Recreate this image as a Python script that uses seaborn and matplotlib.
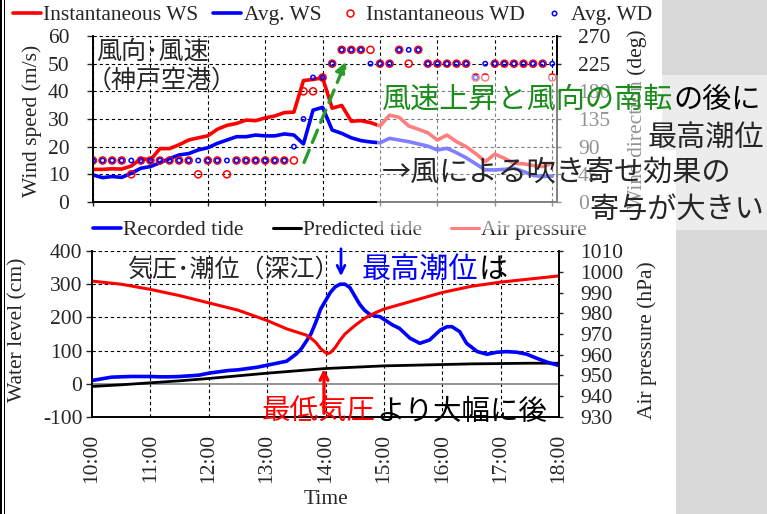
import matplotlib
matplotlib.use("Agg")
import matplotlib.pyplot as plt
import seaborn as sns
import pandas as pd
from matplotlib.lines import Line2D
from matplotlib.patches import Rectangle

# ---------------- Kobe Airport wind, 10-minute records 10:00-18:00 ----------------
wind_minutes = list(range(0, 481, 10))
inst_ws = [11.8, 11.8, 12.0, 11.9, 13.0, 15.7, 15.2, 19.3, 19.3, 20.7,
           22.4, 23.2, 23.9, 26.3, 27.7, 28.4, 29.6, 29.4, 30.4, 31.1,
           32.3, 32.5, 43.9, 44.3, 44.9, 33.9, 34.9, 29.2, 29.4, 28.7,
           27.5, 31.4, 30.6, 27.5, 26.3, 25.0, 22.4, 24.2, 21.8, 20.0,
           17.5, 14.6, 17.3, 15.8, 14.0, 13.8, 13.2, 12.8, 14.0]
avg_ws = [9.8, 8.8, 9.2, 8.9, 10.4, 12.2, 12.8, 14.2, 15.7, 17.0,
          17.5, 18.8, 19.6, 21.2, 22.4, 23.6, 23.6, 24.2, 23.9, 23.9,
          24.6, 24.2, 21.0, 33.2, 34.2, 26.0, 24.8, 23.2, 22.2, 21.7,
          21.4, 23.0, 22.4, 21.8, 21.0, 20.2, 18.8, 19.4, 17.8, 16.0,
          13.8, 11.6, 11.6, 11.8, 12.2, 11.0, 9.6, 9.2, 9.4]
inst_wd = [67.5, 67.5, 67.5, 67.5, 45, 67.5, 67.5, 67.5, 67.5, 67.5,
           67.5, 45, 67.5, 67.5, 45, 67.5, 67.5, 67.5, 67.5, 67.5,
           67.5, 67.5, 180, 180, 202.5, 225, 247.5, 247.5, 247.5, 247.5,
           225, 225, 247.5, 225, 247.5, 225, 225, 225, 225, 225,
           202.5, 202.5, 225, 225, 225, 225, 225, 225, 202.5]
avg_wd = [67.5, 67.5, 67.5, 67.5, 67.5, 67.5, 67.5, 67.5, 67.5, 67.5,
          67.5, 67.5, 67.5, 67.5, 67.5, 67.5, 67.5, 67.5, 67.5, 67.5,
          67.5, 90, 135, 202.5, 202.5, 225, 247.5, 247.5, 247.5, 225,
          225, 225, 247.5, 247.5, 247.5, 225, 225, 225, 225, 225,
          202.5, 225, 225, 225, 225, 225, 225, 225, 225]

# ---------------- Fukae: tide level and air pressure ----------------
tide_minutes = [0, 10, 20, 30, 40, 50, 60, 70, 80, 90, 100, 110, 120, 130, 140,
                150, 160, 170, 180, 190, 200, 210, 215, 220, 225, 230, 235, 240,
                245, 250, 255, 260, 265, 270, 275, 280, 285, 290, 296, 309, 316,
                327, 337, 347, 358, 365, 370, 378, 385, 396, 406, 416, 426, 437,
                447, 457, 468, 480]
recorded_tide = [10, 15, 20, 21, 22, 22, 22, 21, 21, 22, 24, 26, 32, 36, 40,
                 42, 46, 50, 56, 62, 68, 90, 105, 127, 150, 185, 225, 250,
                 275, 292, 300, 300, 290, 265, 240, 222, 210, 205, 202, 177, 167,
                 137, 122, 132, 162, 172, 172, 157, 122, 97, 89, 95, 97, 95,
                 89, 77, 65, 55]
pred_minutes = list(range(0, 481, 30))
predicted_tide = [-8, -3, 3, 9, 16, 24, 32, 39, 46, 50, 54, 56, 58, 60, 61, 62, 62]
press_minutes = [0, 30, 60, 90, 120, 150, 180, 200, 210, 220, 225, 230, 235, 240,
                 242, 245, 250, 255, 260, 270, 280, 290, 300, 330, 360, 390, 420,
                 450, 480]
air_pressure = [995.5, 994, 991.5, 988.5, 985, 981.5, 976.5, 972.5, 971, 969.5,
                968, 966, 963, 961, 960.5, 961, 963.5, 967, 970, 974, 977.5, 980,
                982, 986, 990, 993, 995, 996.5, 998]

hour_ticks = list(range(0, 481, 60))
hour_labels = ["10:00", "11:00", "12:00", "13:00", "14:00", "15:00", "16:00", "17:00", "18:00"]

W, H = 767, 514
RED, BLUE, BLACK = "#ff0000", "#0000ff", "#000000"
GREEN = "#1a8c1a"
SERIF = "Liberation Serif"
JP = ["Noto Sans CJK JP", "DejaVu Sans"]
FS = 15.5

sns.set_style("white")
plt.rcParams["font.family"] = [SERIF, "DejaVu Sans"]
plt.rcParams["axes.unicode_minus"] = False


def fx(px):
    return px / W


def fy(py):
    return 1 - py / H


fig = plt.figure(figsize=(W / 100, H / 100), dpi=100)
fig.patch.set_facecolor("white")

grid_kw = dict(color="black", lw=0.8, linestyle=(0, (3, 2.5)))


def style_axes(ax, axr):
    for a in (ax, axr):
        a.set_facecolor("none")
        a.spines["top"].set_visible(False)
        for s in ("left", "right", "bottom"):
            a.spines[s].set_color("black")
            a.spines[s].set_linewidth(1.2)


# ---------------- upper panel: wind ----------------
ax1 = fig.add_axes([fx(93), fy(202), fx(557) - fx(93), (202 - 36) / H])
ax1r = ax1.twinx()
style_axes(ax1, ax1r)

wind = pd.DataFrame({"t": wind_minutes, "iws": inst_ws, "aws": avg_ws,
                     "iwd": inst_wd, "awd": avg_wd})
sns.lineplot(data=wind, x="t", y="iws", ax=ax1, color=RED, lw=2.6,
             estimator=None, sort=False)
sns.lineplot(data=wind, x="t", y="aws", ax=ax1, color=BLUE, lw=2.6,
             estimator=None, sort=False)
sns.scatterplot(data=wind, x="t", y="iwd", ax=ax1r, marker="o", s=26,
                facecolor="none", edgecolor=RED, linewidth=1.1)
sns.scatterplot(data=wind, x="t", y="awd", ax=ax1r, marker="o", s=10,
                facecolor="none", edgecolor=BLUE, linewidth=1.1)

ax1.set_xlim(0, 485)
ax1.set_ylim(0, 60)
ax1r.set_ylim(0, 270)
ax1.set_xticks(hour_ticks)
ax1.set_xticklabels([])
ax1.set_yticks(range(0, 61, 10))
ax1r.set_yticks(range(0, 271, 45))
for x in hour_ticks:
    ax1.axvline(x, zorder=0.5, **grid_kw)
for y in range(10, 61, 10):
    ax1.axhline(y, zorder=0.5, **grid_kw)
ax1.set_xlabel("")
ax1.set_ylabel("")
ax1r.set_ylabel("")
ax1.tick_params(axis="x", direction="out", length=3, width=1, bottom=True)
ax1.tick_params(axis="y", direction="out", length=4, width=1, left=True,
                labelsize=FS, pad=13)
ax1r.tick_params(axis="y", direction="out", length=3, width=1, right=True,
                 labelsize=FS, pad=12)

# ---------------- lower panel: tide and pressure ----------------
ax2 = fig.add_axes([fx(92), fy(417), fx(559) - fx(92), (417 - 251) / H])
ax2r = ax2.twinx()
style_axes(ax2, ax2r)

tide = pd.DataFrame({"t": tide_minutes, "rec": recorded_tide})
pred = pd.DataFrame({"t": pred_minutes, "pred": predicted_tide})
press = pd.DataFrame({"t": press_minutes, "hpa": air_pressure})

ax2.set_xlim(0, 480)
ax2.set_ylim(-100, 400)
ax2r.set_ylim(930, 1010)
for x in hour_ticks[1:-1]:
    ax2.axvline(x, zorder=0.5, **grid_kw)
for y in (100, 200, 300, 400):
    ax2.axhline(y, zorder=0.5, **grid_kw)
ax2.axhline(0, color="#808080", lw=1.2, zorder=0.6)

sns.lineplot(data=pred, x="t", y="pred", ax=ax2, color=BLACK, lw=2.0,
             estimator=None, sort=False)
sns.lineplot(data=tide, x="t", y="rec", ax=ax2, color=BLUE, lw=2.6,
             estimator=None, sort=False)
sns.lineplot(data=press, x="t", y="hpa", ax=ax2r, color=RED, lw=2.2,
             estimator=None, sort=False)

ax2.set_xticks(hour_ticks)
ax2.set_xticklabels(hour_labels, rotation=90, fontsize=FS)
ax2.set_yticks(range(-100, 401, 100))
ax2r.set_yticks(range(930, 1011, 10))
ax2.set_xlabel("")
ax2.set_ylabel("")
ax2r.set_ylabel("")
ax2.tick_params(axis="x", length=0, pad=12)
ax2.tick_params(axis="y", direction="out", length=4, width=1, left=True,
                labelsize=FS, pad=3)
ax2r.tick_params(axis="y", direction="out", length=3, width=1, right=True,
                 labelsize=FS, pad=12)

# ---------------- axis titles ----------------
fig.text(fx(32), fy(121), "Wind speed (m/s)", rotation=90, ha="center",
         va="center", fontsize=FS)
fig.text(fx(18), fy(330), "Water level (cm)", rotation=90, ha="center",
         va="center", fontsize=FS)
fig.text(fx(637), fy(119), "Wind direction (deg)", rotation=90, ha="center",
         va="center", fontsize=FS)
fig.text(fx(647), fy(340), "Air pressure (hPa)", rotation=90, ha="center",
         va="center", fontsize=FS)
fig.text(fx(326), fy(500), "Time", ha="center", va="center", fontsize=FS)

# ---------------- legends ----------------
top_handles = [
    Line2D([], [], color=RED, lw=2.6),
    Line2D([], [], color=BLUE, lw=2.6),
    Line2D([], [], color=RED, marker="o", ls="none", ms=5, mfc="none", mew=1.1),
    Line2D([], [], color=BLUE, marker="o", ls="none", ms=3.2, mfc="none", mew=1.1),
]
top_labels = ["Instantaneous WS", "Avg. WS", "Instantaneous WD", "Avg. WD"]
leg1 = fig.legend(top_handles, top_labels, ncol=4, loc="center left",
                  bbox_to_anchor=(fx(13), fy(15)), frameon=False, fontsize=FS,
                  handlelength=1.3, handletextpad=0.1, columnspacing=0.7,
                  borderaxespad=0, borderpad=0)

bot_handles = [Line2D([], [], color=BLUE, lw=2.6),
               Line2D([], [], color=BLACK, lw=2.2),
               Line2D([], [], color=RED, lw=2.2)]
bot_labels = ["Recorded tide", "Predicted tide", "Air pressure"]
leg2 = fig.legend(bot_handles, bot_labels, ncol=3, loc="center left",
                  bbox_to_anchor=(fx(93), fy(230)), frameon=False, fontsize=FS,
                  handlelength=1.3, handletextpad=0.1, columnspacing=1.35,
                  borderaxespad=0, borderpad=0)
leg2.set_zorder(5)

# ---------------- slide decorations ----------------
fig.add_artist(Rectangle((0, 0), fx(5), 1, transform=fig.transFigure,
                         facecolor="black", lw=0, zorder=0.2))
fig.add_artist(Rectangle((fx(1.5) + 0.0, 0), fx(2.2), 1, transform=fig.transFigure,
                         facecolor="white", lw=0, zorder=0.21))
fig.add_artist(Rectangle((fx(662), fy(150)), fx(767) - fx(662), 150 / H,
                         transform=fig.transFigure, facecolor="#d9d9d9", lw=0,
                         zorder=0.2))
fig.add_artist(Rectangle((fx(676), 0), fx(767) - fx(676), fy(150),
                         transform=fig.transFigure, facecolor="#d9d9d9", lw=0,
                         zorder=0.2))
fig.add_artist(Rectangle((fx(377), fy(230)), fx(767) - fx(377), (230 - 75) / H,
                         transform=fig.transFigure, facecolor="white", alpha=0.5,
                         lw=0, zorder=5.5))

# ---------------- annotations ----------------
fig.text(fx(96), fy(52), "風向･風速", family=JP, fontsize=18, va="center", zorder=7)
fig.text(fx(87), fy(81), "（神戸空港）", family=JP, fontsize=18, va="center", zorder=7)

fig.add_artist(matplotlib.text.Annotation(
    "", xy=(347, H - 59), xytext=(303, H - 165), xycoords="figure pixels",
    textcoords="figure pixels",
    arrowprops=dict(arrowstyle="-|>", color="#2a9a2a", lw=2.4,
                    linestyle=(0, (4, 2.5)), mutation_scale=16)))

t1 = fig.text(fx(382), fy(100), "風速上昇と風向の南転", family=JP, fontsize=21,
              color=GREEN, va="center", zorder=7)
fig.add_artist(matplotlib.text.Annotation(
    "の後に", xy=(1, 0), xycoords=t1, va="bottom", ha="left", family=JP,
    fontsize=21, color="black", zorder=7))
fig.text(fx(764), fy(138), "最高潮位", family=JP, fontsize=21, ha="right",
         va="center", zorder=7)
fig.text(fx(382), fy(173), "→風による吹き寄せ効果の", family=JP, fontsize=21,
         va="center", zorder=7)
fig.text(fx(764), fy(210), "寄与が大きい", family=JP, fontsize=21, ha="right",
         va="center", zorder=7)

fig.text(fx(127), fy(270), "気圧･潮位（深江）", family=JP, fontsize=18,
         va="center", zorder=7)
t2 = fig.text(fx(362), fy(270), "最高潮位", family=JP, fontsize=21, color=BLUE,
              va="center", zorder=7)
fig.add_artist(matplotlib.text.Annotation(
    "は", xy=(1, 0), xycoords=t2, va="bottom", ha="left", family=JP,
    fontsize=21, color="black", zorder=7))
t3 = fig.text(fx(262), fy(412), "最低気圧", family=JP, fontsize=20.5, color=RED,
              va="center", zorder=7)
fig.add_artist(matplotlib.text.Annotation(
    "より大幅に後", xy=(1, 0), xycoords=t3, va="bottom", ha="left", family=JP,
    fontsize=20.5, color="black", zorder=7))

fig.add_artist(matplotlib.text.Annotation(
    "", xy=(341, H - 279), xytext=(341, H - 246), xycoords="figure pixels",
    textcoords="figure pixels",
    arrowprops=dict(arrowstyle="->", color=BLUE, lw=2.0, mutation_scale=14)))
fig.add_artist(matplotlib.text.Annotation(
    "", xy=(324, H - 366), xytext=(324, H - 416), xycoords="figure pixels",
    textcoords="figure pixels",
    arrowprops=dict(arrowstyle="->", color=RED, lw=2.4, mutation_scale=14)))

fig.savefig("out.png", dpi=100, facecolor="white")
